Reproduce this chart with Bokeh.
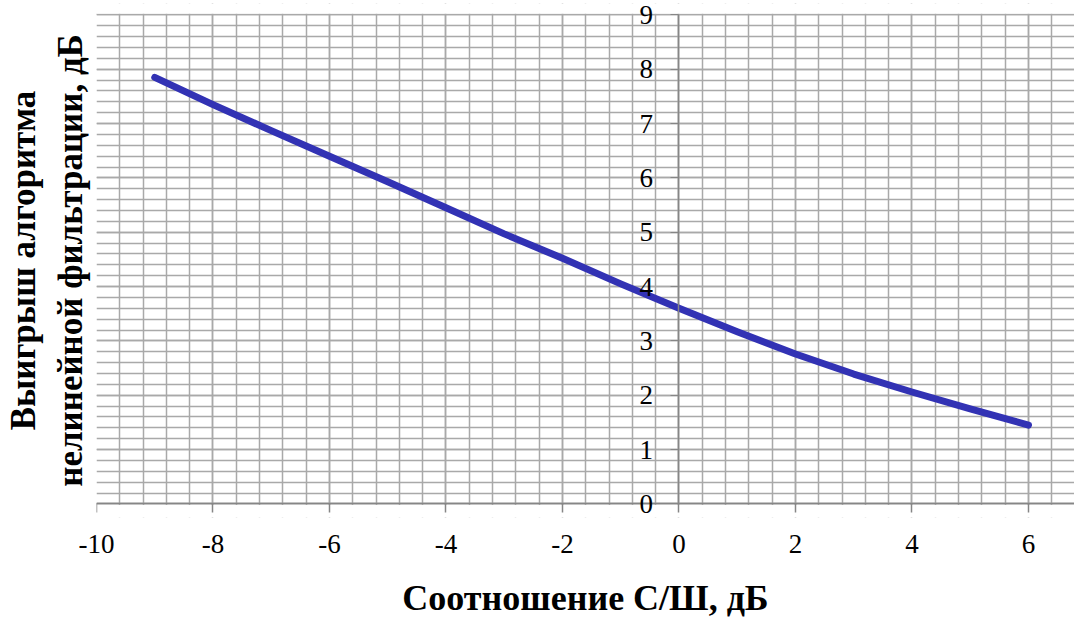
from bokeh.plotting import figure
from bokeh.models import (Range1d, LinearAxis, Grid, SingleIntervalTicker, Title,
                          BoxAnnotation, CustomJSTickFormatter)
from bokeh.embed import file_html
from bokeh.resources import INLINE

# Data
snr_db = [-9, -8, -7, -6, -5, -4, -3, -2, -1, 0, 1, 2, 3, 4, 5, 6]
gain_db = [7.85, 7.35, 6.87, 6.40, 5.93, 5.45, 4.97, 4.52, 4.05, 3.60,
           3.17, 2.76, 2.39, 2.06, 1.75, 1.45]

x_title = "Соотношение С/Ш, дБ"
y_title_1 = "Выигрыш алгоритма"
y_title_2 = "нелинейной фильтрации, дБ"

FONT = "Liberation Serif"
GRID = "#a9a9a9"
AXIS = "#868686"

p = figure(width=1074, height=622, x_range=Range1d(-10, 6.79), y_range=Range1d(-0.25, 9.21),
           output_backend="svg", toolbar_location=None,
           x_axis_type=None, y_axis_type=None,
           min_border_left=96, min_border_right=0, min_border_top=3, min_border_bottom=105)
p.outline_line_color = None
p.background_fill_color = "white"
p.border_fill_color = "white"

xgrid = Grid(dimension=0, ticker=SingleIntervalTicker(interval=2, num_minor_ticks=5),
             grid_line_color=GRID, grid_line_width=1.5,
             minor_grid_line_color=GRID, minor_grid_line_width=1.5)
ygrid = Grid(dimension=1, ticker=SingleIntervalTicker(interval=1, num_minor_ticks=5),
             grid_line_color=GRID, grid_line_width=1.5,
             minor_grid_line_color=GRID, minor_grid_line_width=1.5, bounds=(0, 9))
p.add_layout(xgrid)
p.add_layout(ygrid)
# blank the padding outside the 0..9 band
p.add_layout(BoxAnnotation(bottom=9.02, fill_color="white",
                           fill_alpha=1, line_alpha=0, level="glyph"))
p.add_layout(BoxAnnotation(top=-0.02, fill_color="white",
                           fill_alpha=1, line_alpha=0, level="glyph"))

fmt = CustomJSTickFormatter(code="return tick.toFixed(0);")

# x axis line and ticks at y = 0
xaxis = LinearAxis(ticker=SingleIntervalTicker(interval=2), fixed_location=0,
                   axis_line_color=AXIS, axis_line_width=1.5,
                   major_tick_line_color=AXIS, major_tick_line_width=1.5,
                   major_tick_in=0, major_tick_out=9,
                   minor_tick_line_color=None, major_label_text_color=None)
p.add_layout(xaxis, "below")

# x tick labels and title below the frame
xlab = LinearAxis(ticker=SingleIntervalTicker(interval=2), formatter=fmt,
                  axis_line_color=None, major_tick_line_color=None,
                  minor_tick_line_color=None, major_tick_in=0, major_tick_out=0,
                  major_label_text_font=FONT, major_label_text_font_size="27px",
                  major_label_text_color="black", major_label_standoff=13,
                  axis_label=x_title, axis_label_text_font=FONT,
                  axis_label_text_font_size="36px", axis_label_text_font_style="bold",
                  axis_label_text_color="black", axis_label_standoff=22)
p.add_layout(xlab, "below")

yaxis = LinearAxis(ticker=SingleIntervalTicker(interval=1), fixed_location=0, bounds=(0, 9),
                   formatter=fmt,
                   axis_line_color=AXIS, axis_line_width=1.5,
                   major_tick_line_color=AXIS, major_tick_line_width=1,
                   major_tick_in=0, major_tick_out=8,
                   minor_tick_line_color=None,
                   major_label_text_font=FONT, major_label_text_font_size="27px",
                   major_label_text_color="black", major_label_standoff=18)
p.add_layout(yaxis, "left")

p.line(snr_db, gain_db, line_color="#3232b4", line_width=7, line_cap="round", line_join="round")

p.add_layout(Title(text=y_title_2, align="center", text_font=FONT, text_font_size="35px",
                   text_font_style="bold", text_color="black", standoff=13), "left")
p.add_layout(Title(text=y_title_1, align="center", text_font=FONT, text_font_size="35px",
                   text_font_style="bold", text_color="black", standoff=0), "left")

open("out.html", "w").write(file_html(p, INLINE))
